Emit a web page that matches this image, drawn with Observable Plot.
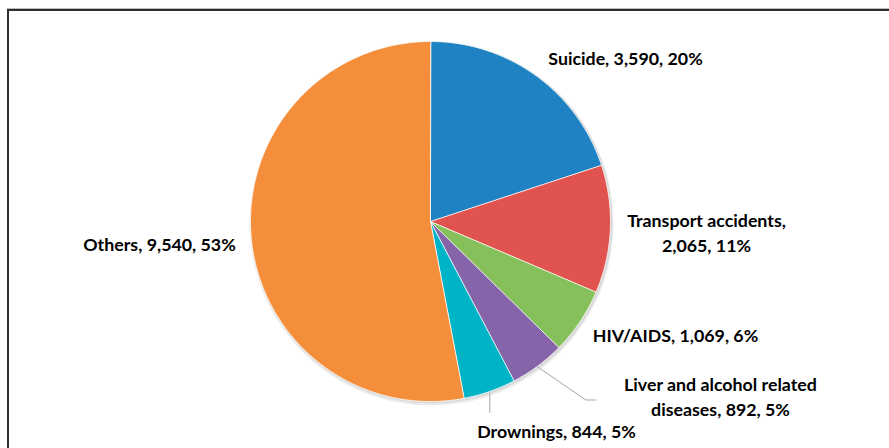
<!DOCTYPE html>
<html>
<head>
<meta charset="utf-8">
<script src="https://cdn.jsdelivr.net/npm/d3@7"></script>
<script src="https://cdn.jsdelivr.net/npm/@observablehq/plot@0.6"></script>
<style>
  html, body { margin: 0; padding: 0; background: #fff; overflow: hidden; }
  #wrap { position: relative; width: 889px; height: 448px; }
  #frame { position: absolute; left: 7px; top: 9px; width: 1000px; height: 1000px;
           border-left: 2px solid #2e2e2e; border-top: 2px solid #2e2e2e;
           box-shadow: 0 -1px 0 #bdbdbd; pointer-events: none; }
  #chart svg { display: block; }
</style>
</head>
<body>
<div id="wrap"><div id="chart"></div><div id="frame"></div></div>
<script>
// ---- data ----
const categories = ["Suicide", "Transport accidents", "HIV/AIDS", "Liver and alcohol related diseases", "Drownings", "Others"];
const values = [3590, 2065, 1069, 892, 844, 9540];
const percents = [20, 11, 6, 5, 5, 53];
const labels = [
  "Suicide, 3,590, 20%",
  "Transport accidents,\n2,065, 11%",
  "HIV/AIDS, 1,069, 6%",
  "Liver and alcohol related\ndiseases, 892, 5%",
  "Drownings, 844, 5%",
  "Others, 9,540, 53%"
];
const colors = ["#1f82c2", "#e0534e", "#86c05a", "#8564a9", "#00b4c8", "#f48e3a"];

// ---- layout ----
const W = 889, H = 448;
const cx = 430, cy = 221, R = 180;
const labelPos = [[625, 57], [706, 231], [675, 334], [720, 395], [556, 430], [159, 243]];
const leaderNames = ["Liver and alcohol related diseases", "Drownings"];

const arcs = d3.pie().sort(null)(values);
const polys = [];
arcs.forEach((a, i) => {
  const name = categories[i];
  polys.push({name, x: cx, y: cy});
  const n = Math.max(4, Math.ceil((a.endAngle - a.startAngle) / (Math.PI / 360)));
  for (let k = 0; k <= n; k++) {
    const t = a.startAngle + (a.endAngle - a.startAngle) * k / n;
    polys.push({name, x: cx + R * Math.sin(t), y: cy - R * Math.cos(t)});
  }
});

// leader lines: from slice mid-angle at the rim outward
const leaderPts = [];
arcs.forEach((a, i) => {
  const name = categories[i];
  if (!leaderNames.includes(name)) return;
  const mid = (a.startAngle + a.endAngle) / 2;
  const sx = cx + R * Math.sin(mid), sy = cy - R * Math.cos(mid);
  if (name === "Drownings") {
    leaderPts.push({name, x: sx, y: sy + 2});
    leaderPts.push({name, x: sx, y: sy + 21});
  } else {
    leaderPts.push({name, x: sx, y: sy + 1});
    leaderPts.push({name, x: sx + 48, y: sy + 34});
    leaderPts.push({name, x: sx + 58, y: sy + 34});
  }
});

const labelData = categories.map((c, i) => ({name: c, text: labels[i], x: labelPos[i][0], y: labelPos[i][1]}));

const chart = Plot.plot({
  width: W, height: H,
  margin: 0,
  x: {type: "identity", axis: null},
  y: {type: "identity", axis: null},
  color: {domain: categories, range: colors},
  style: {background: "transparent"},
  marks: [
    Plot.dot([{x: cx + 1, y: cy + 2}], {x: "x", y: "y", r: R + 2, fill: "#000", fillOpacity: 0.08}),
    Plot.dot([{x: cx + 1, y: cy + 1}], {x: "x", y: "y", r: R + 1, fill: "#000", fillOpacity: 0.08}),
    Plot.line(polys, {x: "x", y: "y", z: "name", fill: "name", stroke: "white", strokeWidth: 0.8, curve: "linear-closed"}),
    Plot.line(leaderPts, {x: "x", y: "y", z: "name", stroke: "#a6a6a6", strokeWidth: 1}),
    Plot.text(labelData, {x: "x", y: "y", text: "text", fill: "#000", fontSize: 17.8, fontWeight: "bold",
      fontFamily: "Lato", lineHeight: 1.38, lineAnchor: "middle", textAnchor: "middle"})
  ]
});
document.getElementById("chart").appendChild(chart);
</script>
</body>
</html>
